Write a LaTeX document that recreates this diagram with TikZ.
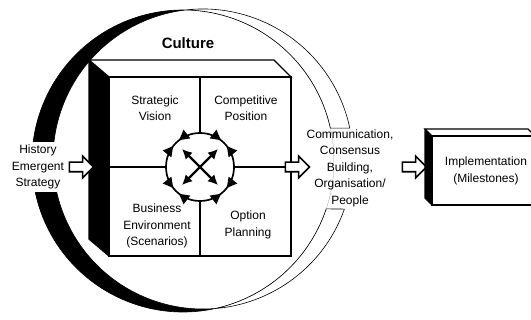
\documentclass[tikz,border=0pt]{standalone}
\usepackage{fontspec}
\setmainfont{Liberation Sans}
\usetikzlibrary{arrows.meta}
\usetikzlibrary{calc}
\usetikzlibrary{shapes.arrows}

\tikzset{
  txt/.style={font=\fontsize{12}{16.5}\selectfont, align=center, inner sep=1pt},
  hollow/.style={single arrow, draw, fill=white, line width=1.6pt, inner sep=4pt,
    minimum height=24pt, single arrow head extend=6pt},
  boxline/.style={line width=1.3pt},
  both tips/.style={{Latex[length=10pt,width=10pt]}-{Latex[length=10pt,width=10pt]}}
}

\begin{document}
\begin{tikzpicture}[x=1pt,y=-1pt]
\useasboundingbox (0,0) rectangle (531,320);

% the culture ring
\coordinate (ringL) at (183,161);
\coordinate (ringR) at (203,159);
\def\rL{151pt}
\def\rR{150pt}
\begin{scope}
\clip (ringL) circle[radius=\rL];
\fill[even odd rule] (ringL) circle[radius=\rL] (ringR) circle[radius=\rR];
\end{scope}
\draw[semithick] ([shift={(12.6:\rL)}]ringL) arc[start angle=12.6, end angle=341.5, radius=\rL]
  -- ([shift={(340.5:\rR)}]ringR) arc[start angle=340.5, end angle=11.9, radius=\rR] -- cycle;

% strategy box
\fill (89,60) -- (109,77) -- (109,256) -- (89,239) -- cycle;
\draw[boxline] (89,60) -- (89,239) -- (109,256);
\draw[boxline, fill=white] (89,60) -- (274,60) -- (291,77) -- (109,77) -- cycle;
\draw[boxline, fill=white] (109,77) rectangle (291,256);

\coordinate (hub) at (200,167);
\draw[boxline] (200,77) -- (200,256);

\node[hollow] (comm arrow) at (295,167) {};
\draw[boxline] (109,167) -- (comm arrow.west);

% hub with arrows
\draw[line width=1.7pt, fill=white] (hub) circle[radius=34pt];
\foreach \d in {45,135,225,315} {
  \begin{scope}[shift={(hub)}, rotate=\d-7]
    \fill (34pt,0pt) -- (28.5pt,-10pt) -- (39.5pt,-10pt) -- cycle;
  \end{scope}
  \begin{scope}[shift={(hub)}, rotate=\d+7]
    \fill (34pt,0pt) -- (28.5pt,10pt) -- (39.5pt,10pt) -- cycle;
  \end{scope}
}
\draw[line width=2.4pt, both tips] ($(hub)+(-18,-18)$) -- ($(hub)+(18,18)$);
\draw[line width=2.4pt, both tips] ($(hub)+(18,-18)$) -- ($(hub)+(-18,18)$);

\node[txt] (vision) at (155,108) {Strategic\\Vision};
\node[txt] (position) at (246,108) {Competitive\\Position};
\node[txt] (environment) at (157,226) {Business\\Environment\\(Scenarios)};
\node[txt] (planning) at (248,225) {Option\\Planning};

\node[font=\fontsize{15}{18}\selectfont\bfseries] (culture) at (188,43) {Culture};

% left and right of the ring
\node[txt, fill=white, inner sep=3pt] (history) at (38,167) {History\\Emergent\\Strategy};
\node[hollow] (hist arrow) at (79,167) {};
\node[txt] (comm) at (350,168) {Communication,\\Consensus\\Building,\\Organisation/\\People};
\node[hollow] (impl arrow) at (412,167) {};

% implementation box
\fill (425,129) -- (432,136) -- (432,205) -- (425,198) -- cycle;
\draw[boxline] (425,129) -- (425,198) -- (432,205);
\draw[boxline, fill=white] (425,129) -- (528,129) -- (535,136) -- (432,136) -- cycle;
\draw[boxline, fill=white] (432,136) rectangle (540,205);
\node[txt] (impl) at (486,171) {Implementation\\(Milestones)};

\end{tikzpicture}
\end{document}
